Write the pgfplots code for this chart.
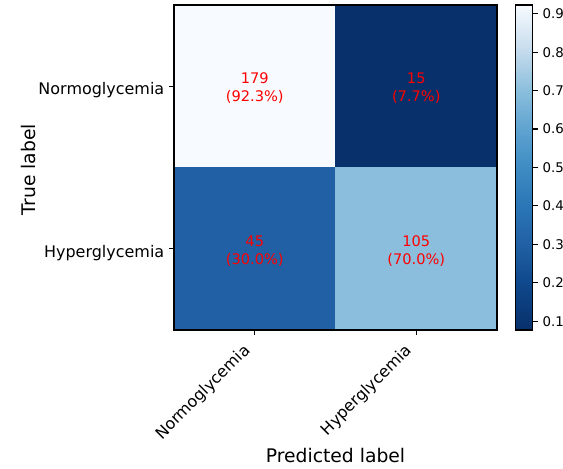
\documentclass[border=0pt]{standalone}
\usepackage{pgfplots}
\pgfplotsset{compat=1.18}
\usepackage{fontspec}
\setmainfont{DejaVu Sans}

\begin{document}
\begin{tikzpicture}
\begin{axis}[
  name=cm,
  scale only axis,
  width=232.6pt, height=234pt,
  xmin=-0.5, xmax=1.5, ymin=-0.5, ymax=1.5,
  y dir=reverse,
  enlargelimits=false,
  axis on top,
  xtick={0,1}, ytick={0,1},
  xticklabels={Normoglycemia, Hyperglycemia},
  yticklabels={Normoglycemia, Hyperglycemia},
  xtick pos=bottom, ytick pos=left,
  tick align=outside,
  major tick length=3.5pt,
  every tick/.style={black, line width=0.8pt},
  axis line style={line width=0.8pt},
  tick label style={font=\fontsize{11.5}{13}\selectfont},
  xticklabel style={yshift=-7pt, xshift=-2.5pt, rotate=45, anchor=east},
  yticklabel style={yshift=-2.8pt, anchor=east},
  every axis x label/.style={at={(rel axis cs:0.5,0)}, yshift=-90.7pt, anchor=center},
  every axis y label/.style={at={(rel axis cs:0,0.5)}, xshift=-105pt, yshift=-1.5pt, rotate=90, anchor=center},
  xlabel={Predicted label}, ylabel={True label},
  label style={font=\fontsize{13.5}{16}\selectfont},
  colormap={bluesr}{
    rgb255(0cm)=(8,48,107)
    rgb255(1.45cm)=(15,72,140)
    rgb255(2.64cm)=(33,96,164)
    rgb255(3.82cm)=(42,118,182)
    rgb255(5cm)=(62,140,195)
    rgb255(6.18cm)=(95,163,208)
    rgb255(7.36cm)=(139,190,220)
    rgb255(8.55cm)=(195,218,236)
    rgb255(10cm)=(247,251,255)
  },
  point meta min=0.0773, point meta max=0.9227,
  colorbar,
  colorbar style={
    at={(parent axis.north east)}, anchor=north west, xshift=5pt,
    width=12.2pt,
    ytick={0.1,0.2,0.3,0.4,0.5,0.6,0.7,0.8,0.9},
    ytick pos=right,
    tick align=outside,
    major tick length=3.5pt,
    every tick/.style={black, line width=0.8pt},
    axis line style={line width=0.8pt},
    yticklabel style={font=\fontsize{9.6}{11}\selectfont,
      /pgf/number format/assume math mode=true,
      /pgf/number format/fixed, /pgf/number format/precision=1},
  },
]
% normalised confusion matrix (row-wise fractions)
\addplot[matrix plot*, mesh/cols=2, point meta=explicit] table[meta=c]{
x y c
0 0 0.9227
1 0 0.0773
0 1 0.3000
1 1 0.7000
};
\tikzset{cell/.style={text=red, align=center, yshift=-1.5pt, font=\fontsize{10.5}{13}\selectfont}}
\node[cell] at (axis cs:0,0) {179\\(92.3\%)};
\node[cell] at (axis cs:1,0) {15\\(7.7\%)};
\node[cell] at (axis cs:0,1) {45\\(30.0\%)};
\node[cell] at (axis cs:1,1) {105\\(70.0\%)};
\end{axis}
\pgfresetboundingbox
\path[use as bounding box] (cm.south west) ++(-125.3pt,-99.4pt) rectangle ++(405.4pt,337pt);
\end{tikzpicture}
\end{document}
